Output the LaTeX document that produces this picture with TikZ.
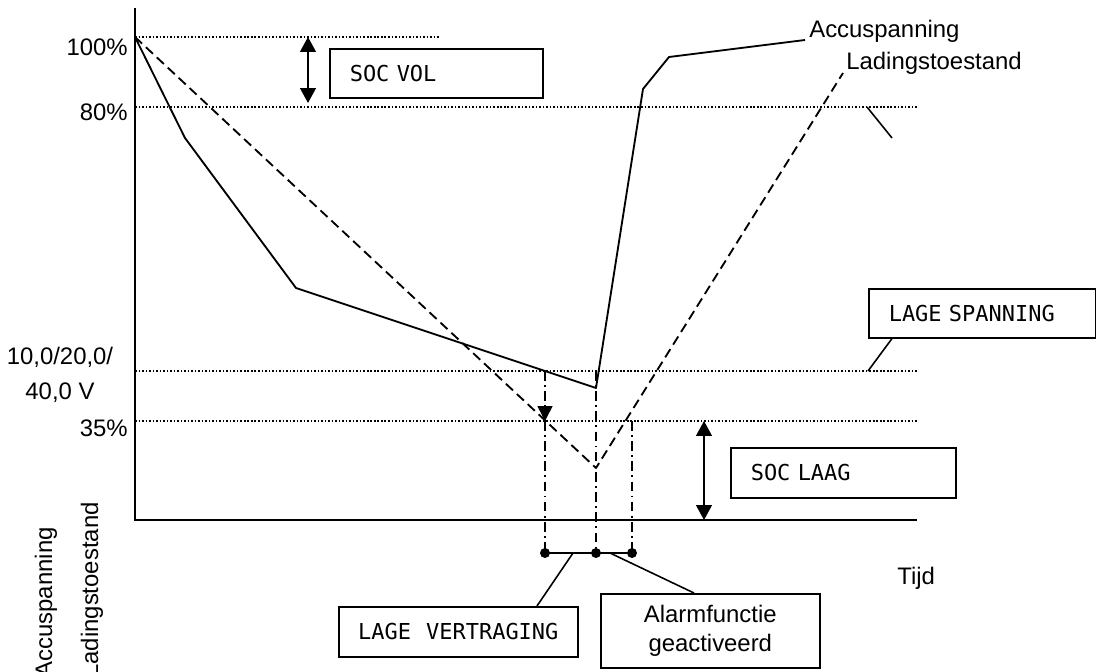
\documentclass[tikz,border=0pt]{standalone}
\usepackage{fontspec}
\setmainfont{Liberation Sans}
\setmonofont[WordSpace={1.15,0,0}]{DejaVu Sans Mono}
\usetikzlibrary{arrows.meta,calc}
\begin{document}
\begin{tikzpicture}[x=0.02cm,y=-0.02cm,
  sans/.style={font=\fontsize{13.6}{16}\selectfont, inner sep=0},
  mono/.style={font=\fontsize{12.5}{15}\selectfont\ttfamily},
  box/.style={draw, line width=0.9pt, mono, anchor=north west, inner ysep=0},
  dotline/.style={line width=1pt, dash pattern=on 0.9pt off 1.1pt},
  curve/.style={line width=1.05pt, line join=round},
  dashcurve/.style={curve, dash pattern=on 5.5pt off 3pt},
  dashdot/.style={line width=0.9pt, dash pattern=on 5.5pt off 2.5pt on 1pt off 2.5pt},
  axis/.style={line width=1.2pt},
  tipa/.tip={Triangle[length=8.5pt,width=9pt]},
  dbl/.style={line width=1pt, tipa-tipa},
  leader/.style={line width=0.9pt},
  dotmark/.style={circle, fill, inner sep=0, minimum size=0.2cm}]
\useasboundingbox (0,0) rectangle (1096,672);

% axes
\coordinate (o) at (135,520);
\coordinate (ytop) at (135,8);
\coordinate (xend) at (917,520);
\draw[axis] (ytop) -- (o) -- (xend);

% dotted reference lines
\coordinate (h100a) at (135,37);  \coordinate (h100b) at (440,37);
\coordinate (h80a) at (135,107);  \coordinate (h80b) at (917,107);
\coordinate (hva) at (135,371);   \coordinate (hvb) at (917,371);
\coordinate (h35a) at (135,421);  \coordinate (h35b) at (917,421);
\draw[dotline] (h100a) -- (h100b);
\draw[dotline] (h80a) -- (h80b);
\draw[dotline] (hva) -- (hvb);
\draw[dotline] (h35a) -- (h35b);

% axis labels
\node[sans, anchor=east] (l100) at (128,47) {100\%};
\node[sans, anchor=east] (l80) at (128,112) {80\%};
\node[sans, align=center, font=\fontsize{13.6}{19.8}\selectfont] (lv) at (60,375) {10,0/20,0/\\40,0 V};
\node[sans, anchor=east] (l35) at (128,428) {35\%};
\node[sans, rotate=90, anchor=east] (ya) at (46,527) {Accuspanning};
\node[sans, rotate=90, anchor=east] (yb) at (92,502) {Ladingstoestand};
\node[sans, anchor=west] (tijd) at (897,578) {Tijd};

% battery voltage curve
\coordinate (s0) at (135,37);
\coordinate (s1) at (185,138);
\coordinate (s2) at (296,288);
\coordinate (s3) at (596,388);
\coordinate (s4) at (643,89);
\coordinate (s5) at (669,57);
\coordinate (s6) at (805,40);
\draw[curve] (s0) -- (s1) -- (s2) -- (s3) -- (s4) -- (s5) -- (s6);
\node[sans, anchor=west] (tacc) at (809,31) {Accuspanning};

% state of charge curve
\coordinate (c1) at (596,468);
\coordinate (c2) at (843,73);
\draw[dashcurve] (s0) -- (c1) -- (c2);
\node[sans, anchor=west] (tlad) at (846,63) {Ladingstoestand};

% stray leader near 80%
\coordinate (st1) at (867,107);
\coordinate (st2) at (892,138);
\draw[leader] (st1) -- (st2);

% SOC VOL
\node[box, minimum width=4.26cm, minimum height=0.98cm, text width=3.46cm, inner xsep=0.4cm, align=left] (socvol) at (329,48) {SOC VOL};
\coordinate (av1) at (308,37);
\coordinate (av2) at (308,103);
\draw[dbl] (av1) -- (av2);

% SOC LAAG
\node[box, minimum width=4.5cm, minimum height=1.0cm, text width=3.7cm, inner xsep=0.4cm, align=left] (soclaag) at (730,447) {SOC LAAG};
\coordinate (al1) at (704,421);
\coordinate (al2) at (704,520);
\draw[dbl] (al1) -- (al2);

% LAGE SPANNING
\node[box, minimum width=4.54cm, minimum height=0.98cm, text width=3.74cm, inner xsep=0.4cm, align=left] (lagesp) at (868,288) {LAGE SPANNING};
\coordinate (lsp) at (868,371);
\draw[leader] ($(lagesp.south west)+(24,0)$) -- (lsp);

% dash-dot markers
\coordinate (v1) at (545,371);
\coordinate (v1b) at (545,421);
\coordinate (v2) at (596,371);
\coordinate (v3) at (632,421);
\node[dotmark] (d1) at (545,553) {};
\node[dotmark] (d2) at (596,553) {};
\node[dotmark] (d3) at (632,553) {};
\draw[dashdot, -{Triangle[length=8.5pt,width=8.5pt]}] (v1) -- (v1b);
\draw[dashdot] (v1b) -- (d1.center);
\draw[dashdot] (v2) -- (d2.center);
\draw[dashdot] (v3) -- (d3.center);
\draw[leader] (d1.center) -- (d3.center);

% bottom boxes
\node[box, minimum width=4.78cm, minimum height=1.0cm, align=center] (lagevt) at (338,606) {LAGE VERTRAGING};
\node[box, sans, inner xsep=0, minimum width=4.38cm, minimum height=1.48cm, align=center, font=\fontsize{13.6}{17}\selectfont] (alarm) at (600,593) {Alarmfunctie\\geactiveerd};
\coordinate (lv1) at (573,553);
\coordinate (lv2) at (537,606);
\draw[leader] (lv1) -- (lv2);
\coordinate (la1) at (610,553);
\coordinate (la2) at (694,593);
\draw[leader] (la1) -- (la2);
\end{tikzpicture}
\end{document}
